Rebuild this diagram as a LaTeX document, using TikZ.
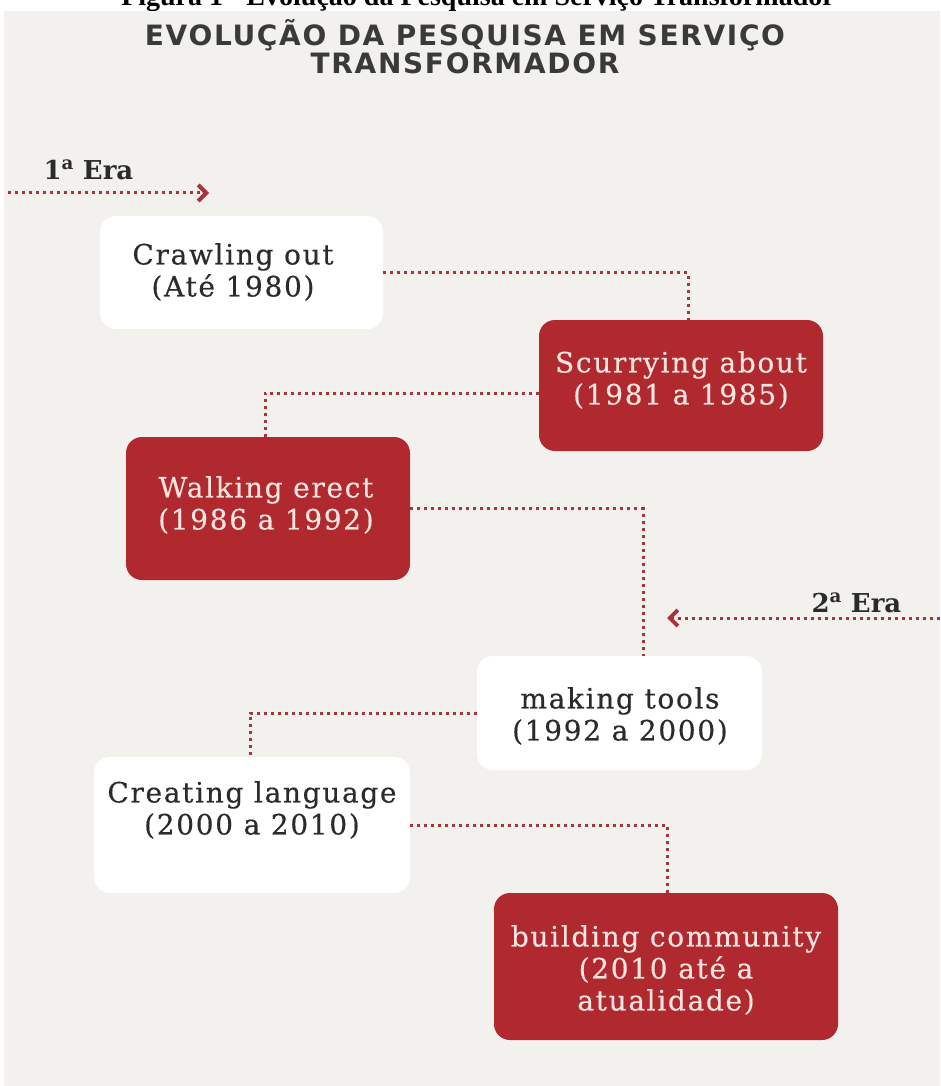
\documentclass[tikz,border=0pt]{standalone}
\usepackage{fontspec}
\setmainfont{DejaVu Serif}
\newfontfamily\titlefont[LetterSpace=6]{DejaVu Sans}
\newfontfamily\boxfont[LetterSpace=6,FakeBold=0.4]{DejaVu Serif}
\newfontfamily\erafont{DejaVu Serif}
\newfontfamily\timesfont{Liberation Serif}
\usetikzlibrary{arrows.meta}
\definecolor{bgc}{HTML}{F2F1EE}
\definecolor{boxred}{HTML}{B0292F}
\definecolor{dotc}{HTML}{A9333B}
\definecolor{titc}{HTML}{3A3A3A}
\definecolor{darktxt}{HTML}{2B2B2B}
\definecolor{lighttxt}{HTML}{F6E4DF}
\begin{document}
\begin{tikzpicture}[x=1pt,y=-1pt,
  box/.style={rounded corners=16pt, inner sep=0pt},
  whitebox/.style={box, fill=white},
  redbox/.style={box, fill=boxred},
  boxtext/.style={align=center, font=\boxfont\fontsize{28}{32}\selectfont},
  darktext/.style={boxtext, text=darktxt},
  lighttext/.style={boxtext, text=lighttxt},
  link/.style={draw=dotc, line width=3pt, dash pattern=on 3pt off 4pt},
  era/.style={link, -{Straight Barb[length=8pt,width=16pt,line width=4pt]}},
  eratext/.style={font=\erafont\bfseries\fontsize{26}{30}\selectfont, text=darktxt}
]
\useasboundingbox (0,0) rectangle (940,1086);
\clip (0,0) rectangle (940,1086);
\fill[white] (0,0) rectangle (940,1086);
\node[anchor=base, font=\timesfont\bfseries\fontsize{28}{30}\selectfont] (caption) at (478,6) {Figura 1 - Evolução da Pesquisa em Serviço Transformador};
\fill[bgc] (4,11) rectangle (940,1086);

% title
\node[align=center, text=titc, font=\titlefont\bfseries\fontsize{28}{28}\selectfont] (title) at (465,47) {EVOLUÇÃO DA PESQUISA EM SERVIÇO\\TRANSFORMADOR};

% boxes
\node[whitebox, minimum width=283pt, minimum height=113pt] (crawl) at (241.5,272.5) {};
\node[redbox, minimum width=284pt, minimum height=131pt] (scur) at (681,385.5) {};
\node[redbox, minimum width=284pt, minimum height=143pt] (walk) at (268,508.5) {};
\node[whitebox, minimum width=285pt, minimum height=114pt] (mak) at (619.5,713) {};
\node[whitebox, minimum width=316pt, minimum height=136pt] (crea) at (252,825) {};
\node[redbox, minimum width=344pt, minimum height=147pt] (build) at (666,966.5) {};

% texts
\node[darktext] (crawlt) at (233,272) {Crawling out\\(Até 1980)};
\node[lighttext] (scurt) at (681,380) {Scurrying about\\(1981 a 1985)};
\node[lighttext] (walkt) at (266,505) {Walking erect\\(1986 a 1992)};
\node[darktext] (makt) at (620,716) {making tools\\(1992 a 2000)};
\node[darktext] (creat) at (252,810) {Creating language\\(2000 a 2010)};
\node[lighttext] (buildt) at (666,970) {building community\\(2010 até a\\atualidade)};

% connectors
\draw[link] (crawl.east) -| ([xshift=7pt]scur.north);
\draw[link] (scur.west |- 0,393) -| ([xshift=-3pt]walk.north);
\draw[link] (walk.east) -| ([xshift=23.5pt]mak.north);
\draw[link] (mak.west) -| ([xshift=-2pt]crea.north);
\draw[link] (crea.east) -| ([xshift=1pt]build.north);

% eras
\coordinate (e1s) at (8,193);
\coordinate (e1e) at (209,193);
\draw[era] (e1s) -- (e1e);
\node[eratext, anchor=base west] (era1) at (40,179) {1\textsuperscript{a} Era};
\coordinate (e2s) at (940,618);
\coordinate (e2e) at (667,618);
\draw[era] (e2s) -- (e2e);
\node[eratext, anchor=base west] (era2) at (808,612) {2\textsuperscript{a} Era};
\end{tikzpicture}
\end{document}
